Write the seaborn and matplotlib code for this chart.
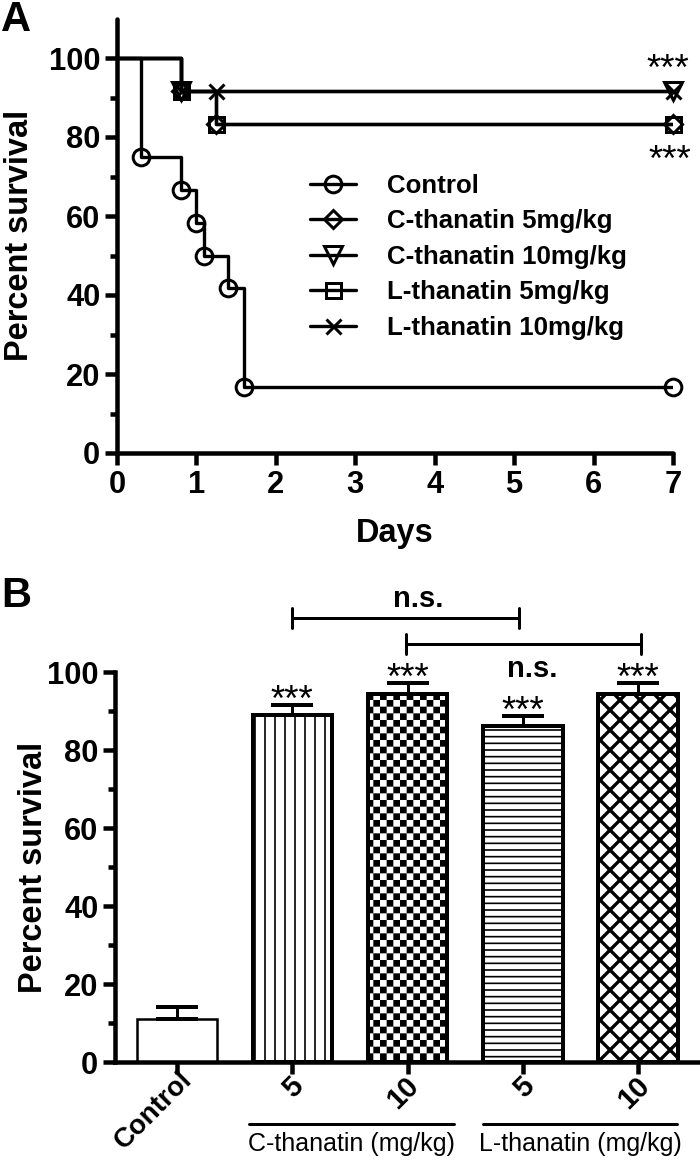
import warnings
warnings.filterwarnings("ignore")
import numpy as np
import pandas as pd
import matplotlib
matplotlib.use("Agg")
import matplotlib as mpl
import matplotlib.pyplot as plt
import matplotlib.hatch as mhatch
import matplotlib.transforms as mtrans
from matplotlib.path import Path
from matplotlib.lines import Line2D
import seaborn as sns

# ---------------- data ----------------
days_control = [0, 0.3, 0.8, 1.0, 1.1, 1.4, 1.6, 7]
surv_control = [100, 75.0, 66.7, 58.3, 50.0, 41.7, 16.7, 16.7]
days_c5 = [0, 0.8, 1.25, 7]
surv_c5 = [100, 91.7, 83.3, 83.3]
days_c10 = [0, 0.8, 7]
surv_c10 = [100, 91.7, 91.7]
days_l5 = [0, 0.8, 1.25, 7]
surv_l5 = [100, 91.7, 83.3, 83.3]
days_l10 = [0, 0.8, 1.25, 7]
surv_l10 = [100, 91.7, 91.7, 91.7]
series_labels = ["Control", "C-thanatin 5mg/kg", "C-thanatin 10mg/kg",
                 "L-thanatin 5mg/kg", "L-thanatin 10mg/kg"]
day_ticks = [0, 1, 2, 3, 4, 5, 6, 7]
pct_ticks = [0, 20, 40, 60, 80, 100]

bar_groups = ["Control", "C5", "C10", "L5", "L10"]
bar_tick_labels = ["Control", "5", "10", "5", "10"]
bar_values = [11.1, 88.9, 94.4, 86.1, 94.4]
bar_errors = [3.0, 2.6, 2.8, 2.6, 2.8]
group_labels = ["C-thanatin (mg/kg)", "L-thanatin (mg/kg)"]


# ---------------- custom checkerboard hatch ----------------
class CheckerHatch(mhatch.HatchPatternBase):
    cells = 18

    def __init__(self, hatch, density):
        self.on = 'c' in hatch
        n = self.cells
        self.num_vertices = (n * n // 2) * 5 if self.on else 0

    def set_vertices_and_codes(self, vertices, codes):
        n = self.cells
        lw = 1.0 / 72.0
        s = 1.0 / n - lw
        verts = []
        for i in range(n):
            for j in range(n):
                if (i + j) % 2 == 0:
                    x0 = i / n + lw / 2
                    y0 = j / n + lw / 2
                    verts += [(x0, y0), (x0 + s, y0), (x0 + s, y0 + s),
                              (x0, y0 + s), (x0, y0)]
        vertices[:] = np.array(verts)
        codes[:] = [Path.MOVETO, Path.LINETO, Path.LINETO, Path.LINETO,
                    Path.CLOSEPOLY] * (n * n // 2)


mhatch._hatch_types.append(CheckerHatch)

# ---------------- style ----------------
sns.set_style("ticks")
plt.rcParams['font.family'] = ['Liberation Sans', 'DejaVu Sans']
plt.rcParams['font.weight'] = 'bold'
plt.rcParams['hatch.linewidth'] = 1.0
plt.rcParams['hatch.color'] = 'black'
plt.rcParams['axes.edgecolor'] = 'black'
plt.rcParams['xtick.color'] = 'black'
plt.rcParams['ytick.color'] = 'black'
plt.rcParams['text.color'] = 'black'
plt.rcParams['axes.labelcolor'] = 'black'

DPI = 120
fig = plt.figure(figsize=(700 / DPI, 1162 / DPI), dpi=DPI)
W, H = 700.0, 1162.0

SPW = 2.7
TICK_FS = 18.5
LAB_FS = 19.5
STAR_FS = 22

# ---------------- panel A ----------------
axA = fig.add_axes([117 / W, 1 - 453 / H, (673 - 117) / W, (453 - 18.5) / H])

series = [
    (days_control, surv_control, 'o', 10),
    (days_c5, surv_c5, 'D', 8),
    (days_c10, surv_c10, 'v', 11),
    (days_l5, surv_l5, 's', 9),
    (days_l10, surv_l10, 'x', 9),
]
for (d, s, m, ms), lab in zip(series, series_labels):
    df = pd.DataFrame({"day": d, "surv": s})
    sns.lineplot(data=df, x="day", y="surv", ax=axA, color='black', lw=2.0,
                 drawstyle='steps-post', estimator=None, sort=False,
                 legend=False)
    axA.plot(df["day"].iloc[1:], df["surv"].iloc[1:], ls='none', marker=m,
             ms=ms, mfc='none', mec='black', mew=1.8, clip_on=False,
             zorder=5)

axA.set_xlim(0, 7)
axA.set_ylim(0, 110)
axA.set_xticks(day_ticks)
axA.set_yticks(pct_ticks)
axA.set_yticks([10, 30, 50, 70, 90], minor=True)
axA.tick_params(axis='both', which='major', length=7, width=SPW,
                labelsize=TICK_FS, pad=3)
axA.tick_params(axis='y', which='minor', length=4, width=SPW)
for sp in ['top', 'right']:
    axA.spines[sp].set_visible(False)
for sp in ['left', 'bottom']:
    axA.spines[sp].set_linewidth(SPW)
    axA.spines[sp].set_capstyle('round')
axA.set_xlabel("Days", fontsize=LAB_FS, fontweight='bold', labelpad=11)
axA.set_ylabel("Percent survival", fontsize=LAB_FS, fontweight='bold')
axA.yaxis.set_label_coords(-0.147, 0.5)

handles = [Line2D([0, 1], [0, 0], color='black', lw=2.0, marker=m, ms=ms,
                  mfc='none', mec='black', mew=1.8)
           for (_, _, m, ms) in series]
axA.legend(handles, series_labels, loc='upper left',
           bbox_to_anchor=(0.347, 0.643), frameon=False,
           prop={'weight': 'bold', 'size': 15.5}, handlelength=1.8,
           handletextpad=1.2, labelspacing=0.45, borderpad=0,
           borderaxespad=0)

axA.text(6.94, 96.8, "***", ha='center', va='center', fontsize=STAR_FS,
         fontweight='normal')
axA.text(6.96, 73.8, "***", ha='center', va='center', fontsize=STAR_FS,
         fontweight='normal')

# ---------------- panel B ----------------
axB = fig.add_axes([115 / W, 1 - 1062 / H, (700 - 115) / W, 390 / H])
dfb = pd.DataFrame({"group": bar_groups, "value": bar_values})
sns.barplot(data=dfb, x="group", y="value", order=bar_groups, ax=axB,
            color='white', saturation=1, edgecolor='black', linewidth=2.4,
            width=0.69, errorbar=None)
hatches = [None, '||', 'c', '---', 'xx']
for p, h in zip(axB.patches, hatches):
    p.set_facecolor('white')
    p.set_edgecolor('black')
    if h:
        p.set_hatch(h)
    else:
        p.set_linewidth(1.5)
    if h == 'xx':
        if hasattr(p, 'set_hatch_linewidth'):
            p.set_hatch_linewidth(2.0)
        else:
            p._hatch_linewidth = 2.0
axB.errorbar(x=np.arange(len(bar_values)), y=bar_values,
             yerr=[np.zeros(len(bar_errors)), bar_errors], fmt='none',
             ecolor='black', elinewidth=1.8, capsize=12.6, capthick=2.4,
             zorder=4)

axB.set_xlim(-0.538, 4.536)
axB.set_ylim(0, 100)
axB.set_yticks(pct_ticks)
axB.set_yticks([10, 30, 50, 70, 90], minor=True)
axB.set_xticks(range(len(bar_groups)))
axB.set_xticklabels(bar_tick_labels, rotation=45, ha='right', va='center',
                    rotation_mode='anchor')
axB.tick_params(axis='both', which='major', length=7, width=SPW,
                labelsize=TICK_FS, pad=3)
axB.tick_params(axis='x', which='major', pad=3, labelsize=17.5)
axB.tick_params(axis='y', which='minor', length=4, width=SPW)
for k, lbl in enumerate(axB.get_xticklabels()):
    if k == 0:
        lbl.set_fontsize(16.5)
        sh = mtrans.ScaledTranslation(11 / DPI, 3 / DPI, fig.dpi_scale_trans)
    else:
        sh = mtrans.ScaledTranslation(7 / DPI, -3 / DPI, fig.dpi_scale_trans)
    lbl.set_transform(lbl.get_transform() + sh)
for sp in ['top', 'right']:
    axB.spines[sp].set_visible(False)
for sp in ['left', 'bottom']:
    axB.spines[sp].set_linewidth(SPW)
axB.set_xlabel("")
axB.set_ylabel("Percent survival", fontsize=LAB_FS, fontweight='bold')
axB.yaxis.set_label_coords(-0.113, 0.5)

# significance stars above bars
for i in range(1, len(bar_values)):
    axB.text(i, bar_values[i] + bar_errors[i] + 0.9, "***", ha='center',
             va='center', fontsize=STAR_FS, fontweight='normal')

# n.s. brackets
def bracket(x0, x1, y, tick=2.6):
    axB.plot([x0, x1], [y, y], color='black', lw=1.8, clip_on=False)
    for xx in (x0, x1):
        axB.plot([xx, xx], [y - tick, y + tick], color='black', lw=1.8,
                 clip_on=False)

bracket(1.0, 2.97, 113.8)
bracket(1.99, 4.02, 107.2)
axB.text(2.09, 118.8, "n.s.", ha='center', va='center', fontsize=17.5,
         fontweight='bold')
axB.text(3.08, 100.8, "n.s.", ha='center', va='center', fontsize=17.5,
         fontweight='bold')

# group lines and labels below the axis
xt = axB.get_xaxis_transform()
for (x0, x1), lab in zip([(0.62, 2.40), (2.65, 4.34)], group_labels):
    axB.plot([x0, x1], [-0.159, -0.159], transform=xt, color='black',
             lw=1.8, clip_on=False)
    axB.text((x0 + x1) / 2, -0.210, lab, transform=xt, ha='center',
             va='center', fontsize=15, fontweight='normal')

# panel letters
fig.text(1 / W, 1 - 0 / H, "A", fontsize=25, fontweight='bold', va='top',
         ha='left')
fig.text(1 / W, 1 - 576 / H, "B", fontsize=25, fontweight='bold', va='top',
         ha='left')

fig.savefig("out.png", dpi=DPI)
